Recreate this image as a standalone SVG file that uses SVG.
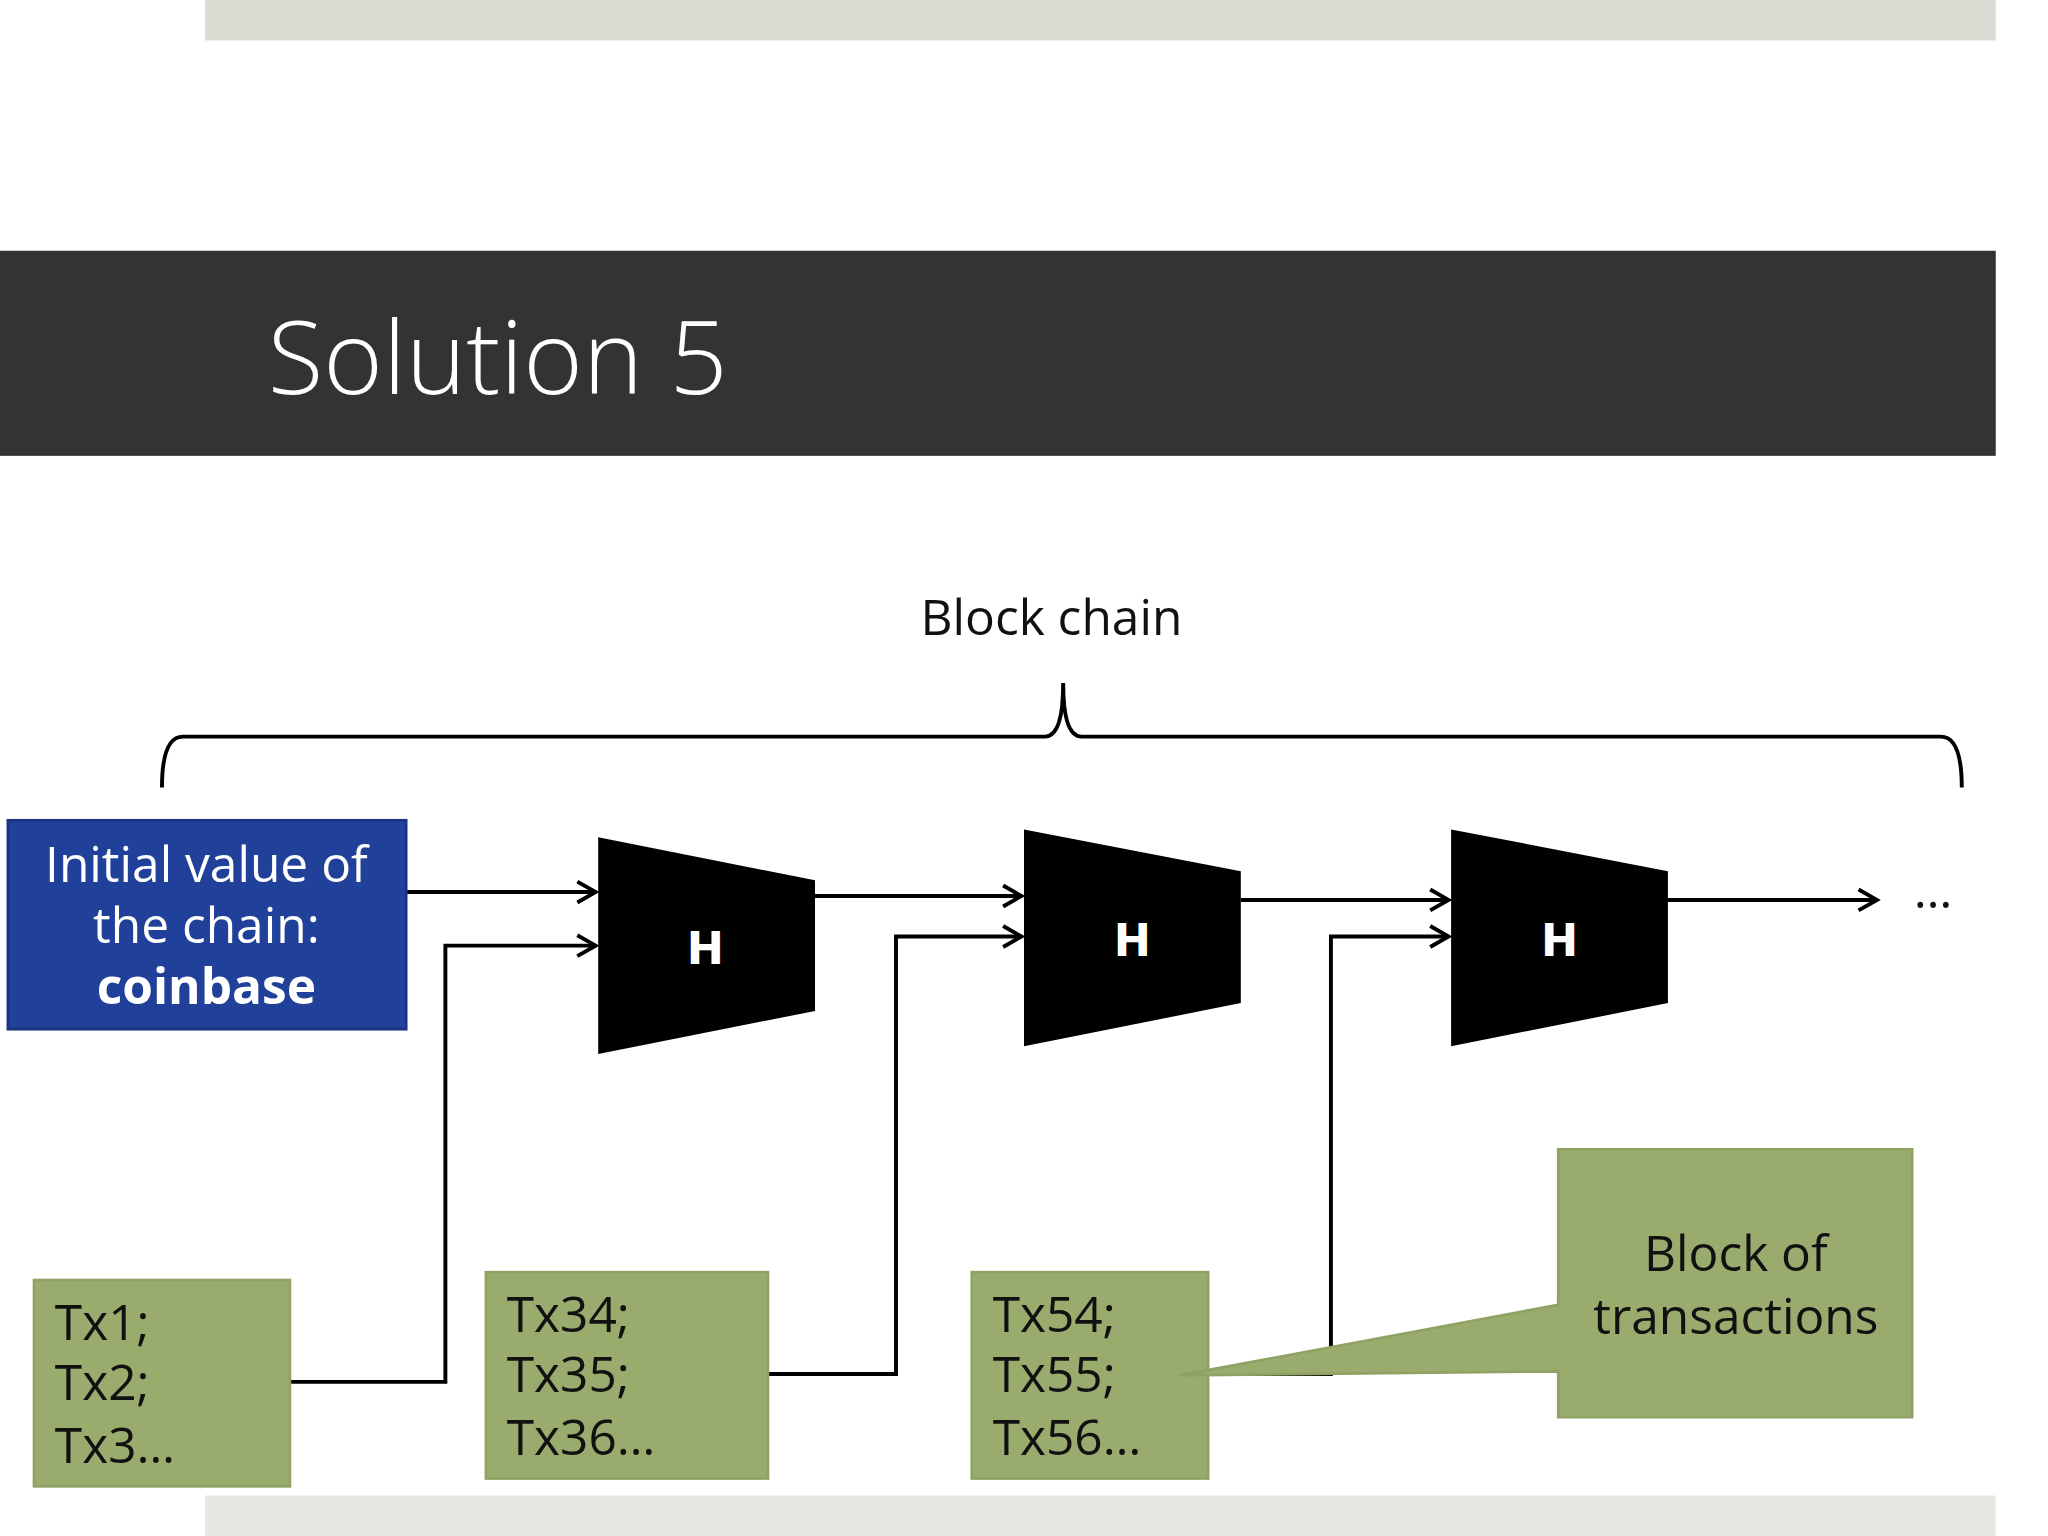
<svg xmlns="http://www.w3.org/2000/svg" width="2048" height="1536" viewBox="0 0 2048 1536">
<style>
.t{font-family:"Open Sans","DejaVu Sans",sans-serif;font-size:38px;fill:#111}
.w{fill:#fff}
.c{text-anchor:middle}
.g{fill:#9aab6e;stroke:#8fa263;stroke-width:2}
.ln{fill:none;stroke:#000;stroke-width:3}
.h{fill:#000}
.ht{font-family:"DejaVu Sans",sans-serif;font-weight:bold;font-size:34px;fill:#fff;text-anchor:middle}
</style>
<defs>
<marker id="a" markerWidth="20" markerHeight="20" refX="17" refY="10" orient="auto" markerUnits="userSpaceOnUse">
<polyline points="3,2 17,10 3,18" fill="none" stroke="#000" stroke-width="3"/>
</marker>
</defs>
<rect width="2048" height="1536" fill="#fff"/>
<g transform="scale(1.30612)">
<rect x="157" y="0" width="1371" height="31" fill="#d9dcd3"/>
<rect x="157" y="1145" width="1371" height="31" fill="#e6e6e3"/>
<g id="title">
<rect x="0" y="192" width="1528" height="157" fill="#333"/>
<text x="205" y="302" class="t w" style="font-size:78px;font-weight:300">Solution 5</text>
</g>
<g id="blockchain">
<text x="805" y="486" class="t c">Block chain</text>
<path class="ln" d="M124,603 Q124,564 140,564 L800,564 Q814,564 814,523 Q814,564 828,564 L1486,564 Q1502,564 1502,603"/>
</g>
<g id="connectors">
<path class="ln" marker-end="url(#a)" d="M311,683 H456"/>
<path class="ln" marker-end="url(#a)" d="M222,1058 H341 V724 H456"/>
<path class="ln" marker-end="url(#a)" d="M624,686 H782"/>
<path class="ln" marker-end="url(#a)" d="M588,1052 H686 V717 H782"/>
<path class="ln" marker-end="url(#a)" d="M950,689 H1109"/>
<path class="ln" marker-end="url(#a)" d="M925,1052 H1019 V717 H1109"/>
<path class="ln" marker-end="url(#a)" d="M1277,689 H1437"/>
</g>
<text x="1480" y="695" class="t c">…</text>
<g id="coinbase">
<rect x="6" y="628" width="305" height="160" fill="#21409a" stroke="#1a3380" stroke-width="2"/>
<text x="158" y="675" class="t w c">Initial value of</text>
<text x="158" y="722" class="t w c">the chain:</text>
<text x="158" y="769" class="t w c" style="font-weight:bold">coinbase</text>
</g>
<g id="h1"><polygon class="h" points="458,641 624,674 624,774 458,807"/><text x="540" y="738" class="ht">H</text></g>
<g id="h2"><polygon class="h" points="784,635 950,667 950,768 784,801"/><text x="867" y="732" class="ht">H</text></g>
<g id="h3"><polygon class="h" points="1111,635 1277,667 1277,768 1111,801"/><text x="1194" y="732" class="ht">H</text></g>
<g id="tx1"><rect class="g" x="26" y="980" width="196" height="158"/>
<text x="42" y="1026" class="t">Tx1;</text><text x="42" y="1072" class="t">Tx2;</text><text x="42" y="1120" class="t">Tx3…</text></g>
<g id="tx2"><rect class="g" x="372" y="974" width="216" height="158"/>
<text x="388" y="1020" class="t">Tx34;</text><text x="388" y="1066" class="t">Tx35;</text><text x="388" y="1114" class="t">Tx36…</text></g>
<g id="tx3"><rect class="g" x="744" y="974" width="181" height="158"/>
<text x="760" y="1020" class="t">Tx54;</text><text x="760" y="1066" class="t">Tx55;</text><text x="760" y="1114" class="t">Tx56…</text></g>
<g id="callout">
<polygon class="g" points="1193,880 1464,880 1464,1085 1193,1085 1193,1050 903,1053 1193,999"/>
<text x="1329" y="973" class="t c">Block of</text>
<text x="1329" y="1021" class="t c">transactions</text>
</g>
</g>
</svg>
